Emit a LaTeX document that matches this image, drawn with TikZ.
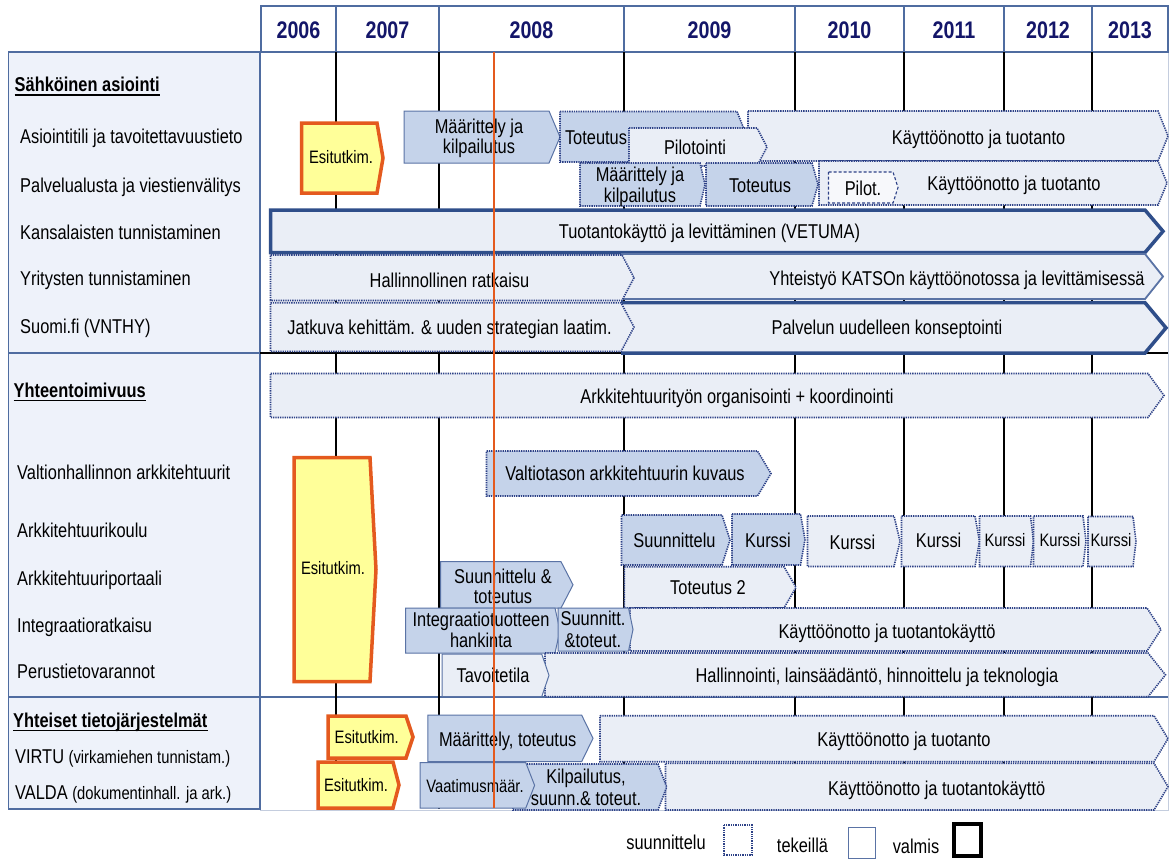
\documentclass[tikz,border=0pt]{standalone}
\usepackage{fontspec}
\setmainfont{Liberation Sans}[FakeStretch=0.82]
\definecolor{panel}{RGB}{238,242,250}
\definecolor{slate}{RGB}{79,108,160}
\definecolor{navy}{RGB}{20,22,105}
\definecolor{mfill}{RGB}{197,211,234}
\definecolor{lfill}{RGB}{234,238,246}
\definecolor{dotc}{RGB}{45,65,135}
\definecolor{thickc}{RGB}{47,78,138}
\definecolor{orng}{RGB}{228,90,30}
\definecolor{yel}{RGB}{255,255,153}
\definecolor{thinc}{RGB}{90,115,165}
\definecolor{gridb}{RGB}{196,205,222}
\newcommand{\fa}{\fontsize{20}{24}\selectfont}
\newcommand{\fb}{\fontsize{18}{22}\selectfont}
\newcommand{\fy}{\fontsize{24}{28}\selectfont\bfseries}
% pentagon bar: style, x1, x2, tip, ytop, ybot
\newcommand{\gbar}[6]{\path[#1] (#2,#5) -- (#3,#5) -- (#4,{(#5+#6)/2}) -- (#3,#6) -- (#2,#6) -- cycle;}
% pentagon bar with open left edge: fill style, draw style, x1, x2, tip, ytop, ybot
\newcommand{\gbaropen}[7]{\path[#1] (#3,#6) -- (#4,#6) -- (#5,{(#6+#7)/2}) -- (#4,#7) -- (#3,#7) -- cycle;
  \draw[#2] (#3,#6) -- (#4,#6) -- (#5,{(#6+#7)/2}) -- (#4,#7) -- (#3,#7);}
\begin{document}
\begin{tikzpicture}[x=1pt,y=-1pt,
  pl/.style={draw=dotc, line width=1.6pt, dash pattern=on 1.3pt off 1pt},
  ip/.style={draw=thinc, line width=1pt},
  dn/.style={draw=thickc, line width=3.5pt},
  mid/.style={draw=thinc, line width=1.8pt},
  fm/.style={fill=mfill},
  fl/.style={fill=lfill},
  esi/.style={fill=yel, draw=orng, line width=3.5pt},
  txt/.style={anchor=base, inner sep=0pt, font=\fa},
  stxt/.style={anchor=base, inner sep=0pt, font=\fb},
  lbl/.style={anchor=base west, inner sep=0pt, font=\fa},
  hd/.style={anchor=base west, inner sep=0pt, font=\fa\bfseries},
  yr/.style={anchor=base, inner sep=0pt, font=\fy, text=navy},
  frame/.style={draw=slate, line width=1.3pt},
  vline/.style={draw=black, line width=1.4pt}]
\useasboundingbox (0,0) rectangle (1170,859);
\fill[white] (0,0) rectangle (1170,859);

% grid area
\draw[gridb, line width=1pt] (260,52) rectangle (1168,810.5);
% left panel
\path[frame, fill=panel] (8.5,52) rectangle (260,809);
\draw[frame] (8.5,353) -- (260,353);
\draw[frame] (8.5,697) -- (1168,697);
% header
\draw[frame, fill=white] (261,6) rectangle (1168,52);
\foreach \x in {336,439,624,795,904,1004,1092} \draw[frame] (\x,6) -- (\x,52);
\node[yr] (y2006) at (298.5,38.6) {2006};
\node[yr] (y2007) at (387.5,38.6) {2007};
\node[yr] (y2008) at (531.5,38.6) {2008};
\node[yr] (y2009) at (709.5,38.6) {2009};
\node[yr] (y2010) at (849.5,38.6) {2010};
\node[yr] (y2011) at (954,38.6) {2011};
\node[yr] (y2012) at (1048,38.6) {2012};
\node[yr] (y2013) at (1130,38.6) {2013};
% vertical grid lines
\foreach \x in {336,439,624,795,904,1004,1092} \draw[vline] (\x,52) -- (\x,809);
\draw[black, line width=2pt] (260,353) -- (1168,353);

% ---------- left labels
\node[hd] (h1) at (14.5,92) {Sähköinen asiointi};
\draw[line width=1.8pt] ([yshift=-3.3pt]h1.base west) -- ([yshift=-3.3pt]h1.base east);
\node[lbl] (l1) at (20,143.2) {Asiointitili ja tavoitettavuustieto};
\node[lbl] (l2) at (20,192.2) {Palvelualusta ja viestienvälitys};
\node[lbl] (l3) at (20,239) {Kansalaisten tunnistaminen};
\node[lbl] (l4) at (20,285.5) {Yritysten tunnistaminen};
\node[lbl] (l5) at (20,333.5) {Suomi.fi (VNTHY)};
\node[hd] (h2) at (13.5,397.2) {Yhteentoimivuus};
\draw[line width=1.8pt] ([yshift=-3.3pt]h2.base west) -- ([yshift=-3.3pt]h2.base east);
\node[lbl] (l6) at (17,479) {Valtionhallinnon arkkitehtuurit};
\node[lbl] (l7) at (17,537.2) {Arkkitehtuurikoulu};
\node[lbl] (l8) at (17,585.2) {Arkkitehtuuriportaali};
\node[lbl] (l9) at (17,632.2) {Integraatioratkaisu};
\node[lbl] (l10) at (17,678.2) {Perustietovarannot};
\node[hd] (h3) at (13,727.2) {Yhteiset tietojärjestelmät};
\draw[line width=1.8pt] ([yshift=-3.3pt]h3.base west) -- ([yshift=-3.3pt]h3.base east);
\node[lbl] (l11) at (15,763.2) {VIRTU {\fb(virkamiehen tunnistam.)}};
\node[lbl] (l12) at (15,799.2) {VALDA {\fb(dokumentinhall. ja ark.)}};

% ---------- Sähköinen asiointi
\path[esi] (301.5,123) -- (377,123) -- (383,158) -- (377,193) -- (301.5,193) -- cycle;
\node[stxt] (e1) at (341,163.4) {Esitutkim.};
\gbar{ip,fm}{404}{549}{560}{111}{163}
\node[txt] (a1) at (479,133.9) {Määrittely ja};
\node[txt] (a2) at (479,153.9) {kilpailutus};
\gbar{pl,fm}{560}{737}{747}{111.5}{162}
\node[txt] (a3) at (596,144.2) {Toteutus};
\gbar{pl,fl}{748}{1158}{1168}{111}{161}
\node[txt] (a4) at (978.6,144.2) {Käyttöönotto ja tuotanto};
\gbar{pl,fl}{629}{757}{767}{128}{166}
\node[txt] (a5) at (695,154.2) {Pilotointi};

\gbar{pl,fm}{580}{700}{705}{163}{206}
\node[txt] (b1) at (640,181.2) {Määrittely ja};
\node[txt] (b2) at (640,202.2) {kilpailutus};
\gbar{pl,fm}{706}{812}{818}{163}{206}
\node[txt] (b3) at (760,192.2) {Toteutus};
\gbar{pl,fl}{819}{1158}{1167}{161}{205}
\path[draw=dotc, line width=1.1pt, dash pattern=on 3pt off 2pt, fill=white!60!lfill] (828.5,172) -- (893,172) -- (898,187.5) -- (893,203) -- (828.5,203) -- cycle;
\node[txt] (b4) at (863,195.2) {Pilot.};
\node[txt] (b5) at (1014,190.2) {Käyttöönotto ja tuotanto};

\gbar{dn,fl}{270.5}{1145}{1163}{210}{252.5}
\node[txt] (c1) at (709.5,238.2) {Tuotantokäyttö ja levittäminen (VETUMA)};
\gbaropen{fl}{mid}{621}{1145}{1163}{254}{299}
\gbar{pl,fl}{270.5}{622}{634}{255}{300.5}
\node[txt] (c2) at (449.5,287.2) {Hallinnollinen ratkaisu};
\node[txt] (c3) at (957,285.2) {Yhteistyö KATSOn käyttöönotossa ja levittämisessä};
\gbaropen{fl}{dn}{621}{1145}{1166}{302.7}{353}
\gbar{pl,fl}{270.5}{621}{634}{302.7}{351.5}
\node[txt] (c4) at (449.5,334.2) {Jatkuva kehittäm. \& uuden strategian laatim.};
\node[txt] (c5) at (887,334.2) {Palvelun uudelleen konseptointi};

% ---------- Yhteentoimivuus
\gbar{pl,fl}{270.5}{1148}{1164}{373.5}{417.5}
\node[txt] (d1) at (737,403.7) {Arkkitehtuurityön organisointi + koordinointi};
\gbar{pl,fm}{486.5}{757.5}{771}{451}{496}
\node[txt] (d2) at (625,480.2) {Valtiotason arkkitehtuurin kuvaus};
\path[esi] (294,457.5) -- (370,457.5) -- (376,569.6) -- (370,681.7) -- (294,681.7) -- cycle;
\node[stxt] (e2) at (333,574.4) {Esitutkim.};

\gbar{pl,fm}{621.5}{722}{730}{515}{565}
\node[txt] (k0) at (674.5,547.2) {Suunnittelu};
\gbar{pl,fm}{732}{800.5}{805}{514}{565}
\node[txt] (k1) at (768,547.2) {Kurssi};
\gbar{pl,fl}{807.5}{894}{900}{516}{566.5}
\node[txt] (k2) at (852.5,549) {Kurssi};
\gbar{pl,fl}{901.5}{975}{979.5}{516}{566.5}
\node[txt] (k3) at (938.6,547.2) {Kurssi};
\gbar{pl,fl}{979.5}{1030.5}{1033.5}{516}{566.5}
\node[stxt] (k4) at (1005,546.4) {Kurssi};
\gbar{pl,fl}{1033.5}{1083}{1086}{516}{566.5}
\node[stxt] (k5) at (1060,546.4) {Kurssi};
\gbar{pl,fl}{1088}{1133}{1136}{516.5}{566.5}
\node[stxt] (k6) at (1111,546.4) {Kurssi};

\gbar{ip,fm}{440.7}{561}{573}{561.7}{608}
\node[txt] (p1) at (503,583.2) {Suunnittelu \&};
\node[txt] (p2) at (503,603.9) {toteutus};
\gbar{pl,fl}{624.4}{784}{796}{566.7}{608}
\node[txt] (p3) at (708,594.2) {Toteutus 2};

\gbar{pl,fl}{630}{1147}{1161}{608}{651}
\node[txt] (i4) at (887,638.9) {Käyttöönotto ja tuotantokäyttö};
\gbar{ip,fm}{405.5}{555}{560}{608}{653}
\node[txt] (i1) at (481,626.2) {Integraatiotuotteen};
\node[txt] (i2) at (481,647.2) {hankinta};
\gbar{ip,fm}{558}{628.5}{633}{608}{651}
\node[txt] (i3) at (593,625.2) {Suunnitt.};
\node[txt] (i5) at (593,647.2) {\&toteut.};

\gbar{pl,fl}{545}{1148}{1165.5}{653}{696.7}
\node[txt] (r2) at (877,682.2) {Hallinnointi, lainsäädäntö, hinnoittelu ja teknologia};
\gbar{ip,fl}{442}{541.7}{549}{654}{696.7}
\node[txt] (r1) at (493,682.2) {Tavoitetila};

% ---------- Yhteiset tietojärjestelmät
\path[esi] (328,716) -- (406,716) -- (413,737) -- (406,758) -- (328,758) -- cycle;
\node[stxt] (e3) at (366.7,743.4) {Esitutkim.};
\path[esi] (318,762) -- (393,762) -- (399,785) -- (393,808) -- (318,808) -- cycle;
\node[stxt] (e4) at (356,791.4) {Esitutkim.};

\gbar{pl,fl}{600}{1154}{1168}{715.7}{761.7}
\node[txt] (v2) at (904,746.2) {Käyttöönotto ja tuotanto};
\gbar{ip,fm}{427.8}{581.6}{593}{715}{761.7}
\node[txt] (v1) at (507.7,746.5) {Määrittely, toteutus};

\gbar{pl,fl}{665.5}{1154}{1168}{763.3}{810}
\node[txt] (w4) at (936.7,795.2) {Käyttöönotto ja tuotantokäyttö};
\gbar{pl,fm}{513}{658}{666.7}{764}{810}
\node[txt] (w2) at (586,783.9) {Kilpailutus,};
\node[txt] (w3) at (586,805.5) {suunn.\& toteut.};
\gbar{ip,fm}{420}{525.8}{534.6}{762.7}{808}
\node[stxt] (w1) at (475,792.4) {Vaatimusmäär.};

% ---------- current-date line
\draw[orng, line width=2pt] (494,52) -- (494,808);

% ---------- legend
\node[txt] (g1) at (666,849) {suunnittelu};
\draw[pl] (724,825) rectangle (752,855);
\node[txt] (g2) at (802.5,852) {tekeillä};
\draw[ip] (848.6,827.7) rectangle (875,858);
\node[txt] (g3) at (916,853) {valmis};
\draw[black, line width=4pt] (954,824) rectangle (980.6,856);
\end{tikzpicture}
\end{document}
